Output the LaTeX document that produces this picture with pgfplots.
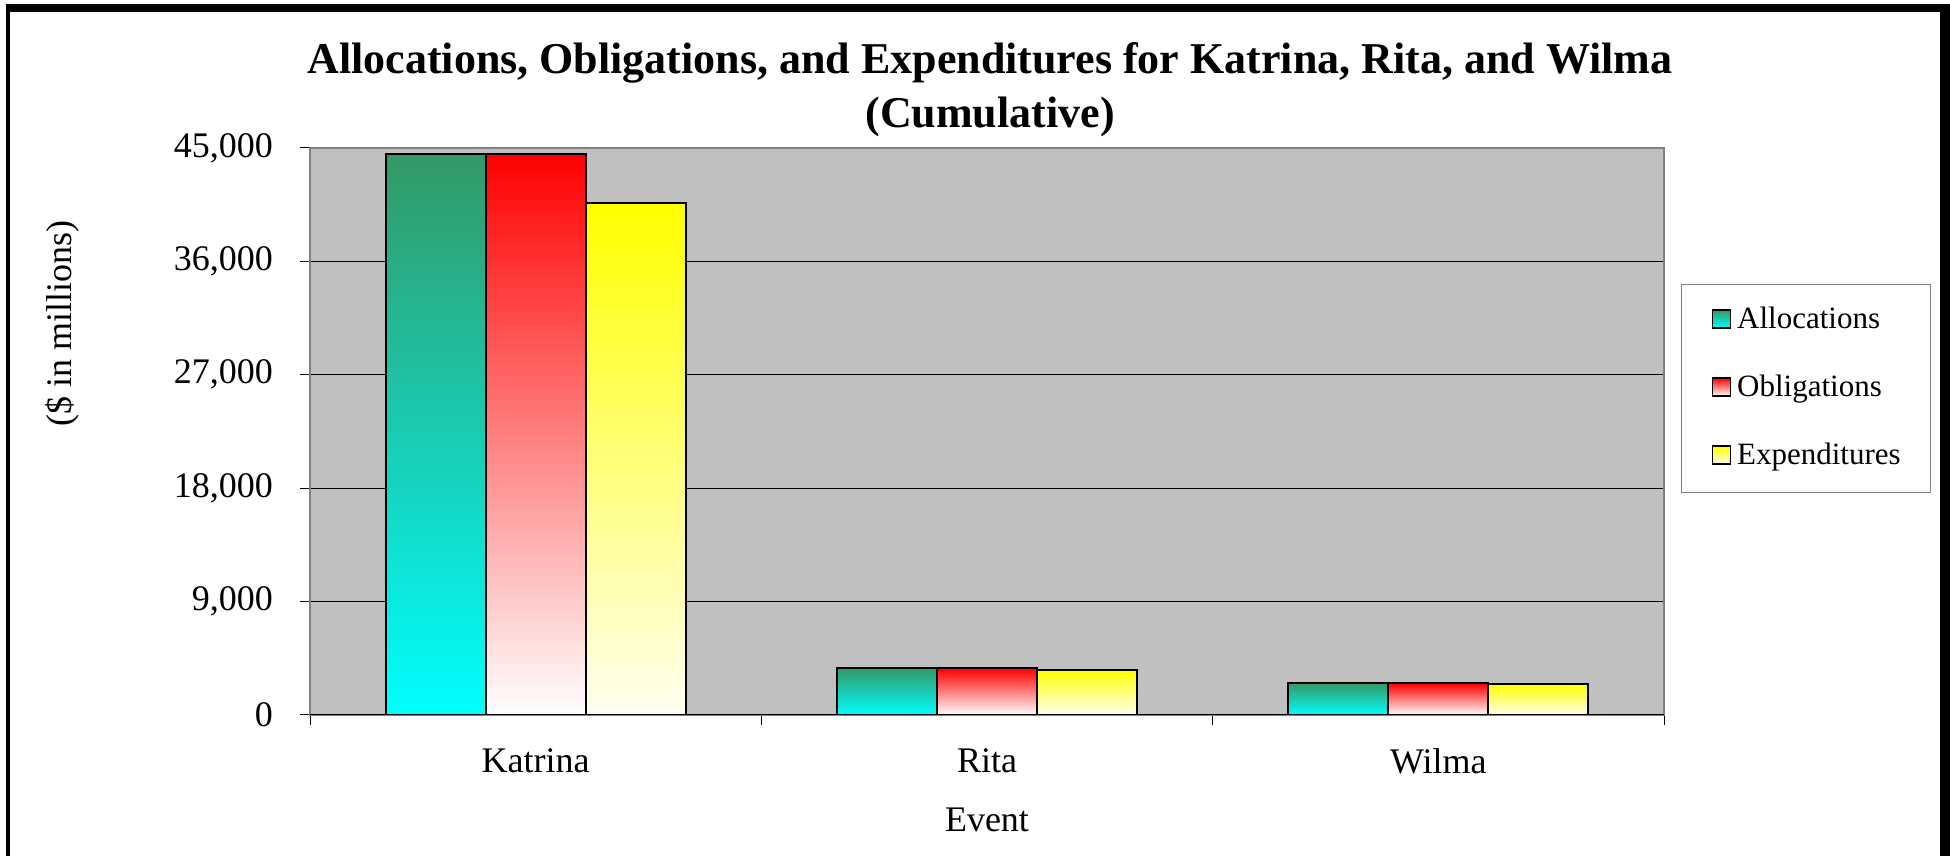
\documentclass[border=0pt]{standalone}
\usepackage{fontspec}
\setmainfont{Liberation Serif}
\usepackage{pgfplots}
\pgfplotsset{compat=1.18}
\definecolor{plotbg}{RGB}{192,192,192}
\definecolor{frameg}{RGB}{128,128,128}
\definecolor{seagreen}{RGB}{51,153,102}
\definecolor{ivory}{RGB}{255,255,240}

\pgfplotsset{
  barbase/.style={ybar, bar width=0.2216, draw=black, line width=1pt},
  alloc/.style={barbase, bar shift=-0.2216, top color=seagreen, bottom color=cyan},
  oblig/.style={barbase, bar shift=0, top color=red, bottom color=white},
  expend/.style={barbase, bar shift=0.2216, top color=yellow, bottom color=ivory},
}

\begin{document}
\begin{tikzpicture}
\useasboundingbox (0pt,0pt) rectangle (975pt,428pt);
\begin{axis}[
  at={(155pt,70.5pt)}, anchor=south west,
  width=677pt, height=283.5pt, scale only axis,
  xmin=-0.5, xmax=2.5, ymin=0, ymax=45000,
  axis background/.style={fill=plotbg},
  axis line style={frameg, line width=1pt},
  ytick={0,9000,18000,27000,36000,45000},
  scaled y ticks=false,
  /pgf/number format/assume math mode=true,
  yticklabel style={/pgf/number format/1000 sep={,}, xshift=-10pt},
  tick label style={font=\fontsize{18}{20}\selectfont},
  xtick={-0.5,0.5,1.5,2.5},
  xticklabels={,,,},
  extra x ticks={0,1,2},
  extra x tick labels={Katrina,Rita,Wilma},
  extra x tick style={major tick length=0pt},
  xticklabel style={yshift=-13.4pt},
  tick align=outside,
  major tick length=5pt,
  tick style={black, line width=0.5pt},
  xtick pos=bottom, ytick pos=left,
  ymajorgrids,
  grid style={black, line width=0.5pt},
  xlabel={Event},
  xlabel style={at={(axis description cs:0.5,-0.2046)}, anchor=base, font=\fontsize{18}{20}\selectfont},
  ylabel={(\$ in millions)},
  ylabel style={at={(axis description cs:-0.183,0.691)}, anchor=center, font=\fontsize{18}{20}\selectfont},
  legend cell align=left,
  legend image code/.code={\draw[#1, line width=0.8pt] (0pt,-3.75pt) rectangle (9pt,5.25pt);},
  legend style={at={(axis description cs:1.0126,0.760)}, anchor=north west,
    draw=frameg, line width=0.5pt, fill=white,
    inner xsep=15pt, inner ysep=10.75pt, row sep=19.5pt, column sep=3pt,
    font=\fontsize{15.5}{17}\selectfont,
    nodes={inner sep=0pt, text height=11pt, text depth=3.5pt}},
]
% Katrina
\addplot[alloc]  coordinates {(0,44500)};
\addplot[oblig]  coordinates {(0,44500)};
\addplot[expend] coordinates {(0,40600)};
% Rita
\addplot[alloc, forget plot]  coordinates {(1,3700)};
\addplot[oblig, forget plot]  coordinates {(1,3700)};
\addplot[expend, forget plot] coordinates {(1,3600)};
% Wilma
\addplot[alloc, forget plot]  coordinates {(2,2500)};
\addplot[oblig, forget plot]  coordinates {(2,2500)};
\addplot[expend, forget plot] coordinates {(2,2450)};
\legend{Allocations,Obligations,Expenditures}
\draw[black, line width=0.5pt] (rel axis cs:0,0) -- (rel axis cs:1,0);
\end{axis}
\node[anchor=base, font=\bfseries\fontsize{22}{24}\selectfont] at (495pt,391pt)
  {Allocations, Obligations, and Expenditures for Katrina, Rita, and Wilma};
\node[anchor=base, font=\bfseries\fontsize{22}{24}\selectfont] at (495pt,364pt)
  {(Cumulative)};
\fill[black] (3pt,0pt) rectangle (5pt,426pt);
\fill[black] (3pt,422.15pt) rectangle (975pt,426pt);
\fill[black] (970pt,0pt) rectangle (975pt,426pt);
\end{tikzpicture}
\end{document}
